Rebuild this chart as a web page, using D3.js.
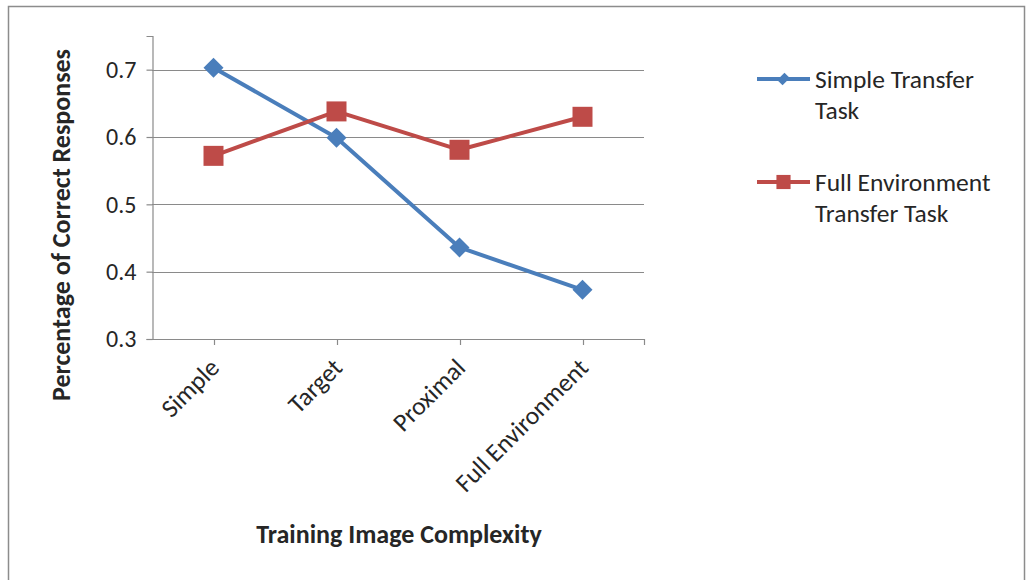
<!DOCTYPE html>
<html>
<head>
<meta charset="utf-8">
<script src="https://cdnjs.cloudflare.com/ajax/libs/d3/7.8.5/d3.min.js"></script>
<style>
  html, body { margin: 0; padding: 0; background: #fff; }
  svg { display: block; }
  text { font-family: Carlito, Lato, "Open Sans", sans-serif; fill: #262626; }
</style>
</head>
<body>
<svg id="chart" width="1028" height="580"></svg>
<script>
// Categories along the x axis
const categories = ["Simple", "Target", "Proximal", "Full Environment"];
// Series values (share of correct responses)
const simpleTransfer = [0.703, 0.599, 0.436, 0.373];
const fullEnvTransfer = [0.572, 0.638, 0.581, 0.630];
const seriesNames = ["Simple Transfer Task", "Full Environment Transfer Task"];
// Y tick labels
const yTicks = [0.3, 0.4, 0.5, 0.6, 0.7];

const colors = ["#4A7EBB", "#BE4B48"];
const svg = d3.select("#chart");

// outer frame
svg.append("rect").attr("x", 8.5).attr("y", 6.5).attr("width", 1016).attr("height", 600)
  .attr("fill", "none").attr("stroke", "#8c8c8c").attr("stroke-width", 1.5);

const plot = { left: 152, right: 644, top: 36, bottom: 339 };

const x = d3.scaleBand().domain(categories).range([plot.left, plot.right]);
const y = d3.scaleLinear().domain([0.3, 0.75]).range([plot.bottom, plot.top]);
const cx = c => x(c) + x.bandwidth() / 2;

// gridlines
svg.append("g").selectAll("line").data(yTicks.slice(1)).join("line")
  .attr("x1", plot.left).attr("x2", plot.right)
  .attr("y1", d => Math.round(y(d)) + 0.5).attr("y2", d => Math.round(y(d)) + 0.5)
  .attr("stroke", "#8a8a8a").attr("stroke-width", 1.2);

// y axis
const yAxis = svg.append("g").attr("transform", `translate(${plot.left + 0.5},0)`)
  .call(d3.axisLeft(y).tickValues(yTicks).tickFormat(d3.format(".1f")).tickSize(6).tickPadding(10));
yAxis.select(".domain").attr("stroke", "#8a8a8a").attr("stroke-width", 1.2);
yAxis.selectAll(".tick line").attr("stroke", "#8a8a8a").attr("stroke-width", 1.2);
yAxis.selectAll(".tick text").style("font-size", "24px").attr("fill", "#262626")
  .style("font-family", "Carlito, Lato, sans-serif");

// x axis
svg.append("line").attr("x1", plot.left).attr("x2", plot.right)
  .attr("y1", plot.bottom + 0.5).attr("y2", plot.bottom + 0.5)
  .attr("stroke", "#8a8a8a").attr("stroke-width", 1.2);
const xTickPos = categories.map(cx).concat([plot.right]);
svg.append("g").selectAll("line").data(xTickPos).join("line")
  .attr("x1", d => Math.round(d) + 0.5).attr("x2", d => Math.round(d) + 0.5)
  .attr("y1", plot.bottom).attr("y2", plot.bottom + 6)
  .attr("stroke", "#8a8a8a").attr("stroke-width", 1.2);

svg.append("g").selectAll("text").data(categories).join("text")
  .attr("transform", d => `translate(${cx(d) + 1},${plot.bottom + 24}) rotate(-45)`)
  .attr("text-anchor", "end")
  .attr("dy", "0.35em")
  .style("font-size", "25.5px")
  .text(d => d);

// axis titles
svg.append("text")
  .attr("transform", `translate(70,${(45 + 405) / 2}) rotate(-90)`)
  .attr("text-anchor", "middle")
  .style("font-size", "26px").style("font-weight", "bold")
  .text("Percentage of Correct Responses");
svg.append("text")
  .attr("x", 399).attr("y", 543)
  .attr("text-anchor", "middle")
  .style("font-size", "26px").style("font-weight", "bold")
  .text("Training Image Complexity");

// series lines and markers
const line = d3.line().x((d, i) => cx(categories[i])).y(d => y(d));
const series = [simpleTransfer, fullEnvTransfer];
const diamond = d3.symbol().type(d3.symbolSquare).size(200);
const square = d3.symbol().type(d3.symbolSquare).size(400);

series.forEach((vals, s) => {
  svg.append("path").datum(vals).attr("d", line)
    .attr("fill", "none").attr("stroke", colors[s]).attr("stroke-width", 4)
    .attr("stroke-linejoin", "round");
  svg.append("g").selectAll("path").data(vals).join("path")
    .attr("transform", (d, i) => `translate(${cx(categories[i])},${y(d)})` + (s === 0 ? " rotate(45)" : ""))
    .attr("d", s === 0 ? diamond : square)
    .attr("fill", colors[s]);
});

// legend
const legendRows = [
  { y: 79, lines: ["Simple Transfer", "Task"] },
  { y: 182, lines: ["Full Environment", "Transfer Task"] }
];
legendRows.forEach((row, s) => {
  const g = svg.append("g");
  g.append("line").attr("x1", 757).attr("x2", 810).attr("y1", row.y).attr("y2", row.y)
    .attr("stroke", colors[s]).attr("stroke-width", 4);
  g.append("path").attr("transform", `translate(783.5,${row.y})` + (s === 0 ? " rotate(45) scale(0.85,1.15)" : ""))
    .attr("d", d3.symbol().type(d3.symbolSquare).size(s === 0 ? 80 : 200))
    .attr("fill", colors[s]);
  row.lines.forEach((t, k) => {
    g.append("text").attr("x", 815).attr("y", row.y + 9 + k * 31)
      .style("font-size", "25.5px").text(t);
  });
});
</script>
</body>
</html>
